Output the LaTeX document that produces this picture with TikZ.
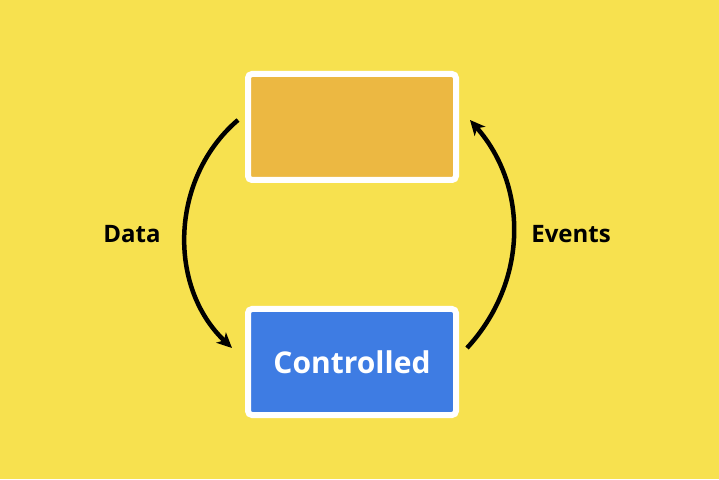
\documentclass[tikz,border=0pt]{standalone}
\usepackage{fontspec}
\setmainfont{Open Sans}
\usetikzlibrary{positioning,arrows.meta}
\definecolor{bgyellow}{HTML}{F7E14F}
\definecolor{boxorange}{HTML}{ECB842}
\definecolor{boxblue}{HTML}{3E7CE3}
\tikzset{
  panel/.style={draw=white,line width=6pt,rounded corners=4pt,minimum width=208pt,minimum height=106pt,inner sep=0pt},
  flow/.style={line width=4.5pt,-{Stealth[length=15pt,width=14pt,inset=4pt]}},
  lbl/.style={font=\bfseries\fontsize{24}{24}\selectfont}
}

\begin{document}
\begin{tikzpicture}[x=1pt,y=1pt]
\fill[bgyellow] (0,0) rectangle (719,479);
\useasboundingbox (0,0) rectangle (719,479);

\node[panel,fill=boxorange] (boxtop) at (352,352) {};
\node[panel,fill=boxblue,text=white,font=\bfseries\fontsize{30}{30}\selectfont] (boxctl) at (352,117) {Controlled};

\node[lbl] (lbdata) at (132,245) {Data};
\node[lbl] (lbev) at (571,245) {Events};

\draw[flow] ([shift={(-7,7)}]boxtop.west) to[bend right=48] ([shift={(-13,14)}]boxctl.west);
\draw[flow] ([shift={(8,14)}]boxctl.east) to[bend right=42] ([shift={(11,7)}]boxtop.east);

\end{tikzpicture}
\end{document}
